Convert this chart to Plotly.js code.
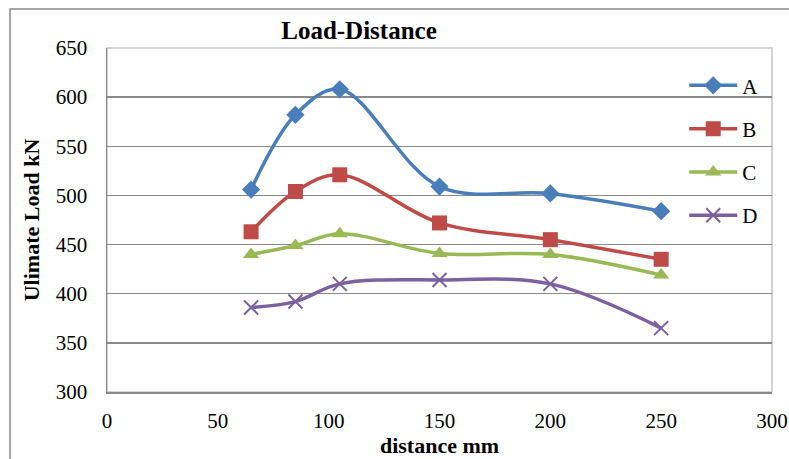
<!DOCTYPE html>
<html>
<head>
<meta charset="utf-8">
<script src="https://cdn.plot.ly/plotly-3.0.1.min.js"></script>
<style>html,body{margin:0;padding:0;background:#fff;}#chart{width:789px;height:459px;}</style>
</head>
<body>
<div id="chart"></div>
<script>
const distance = [65, 85, 105, 150, 200, 250];
const seriesNames = ["A", "B", "C", "D"];
const loadA = [506, 582, 608, 509, 502, 484];
const loadB = [463, 504, 521, 472, 455, 435];
const loadC = [440, 449, 461, 441, 440, 419];
const loadD = [386, 392, 410, 414, 410, 365];
const xTicks = [0, 50, 100, 150, 200, 250, 300];
const yTicks = [300, 350, 400, 450, 500, 550, 600, 650];

const colors = ["#4A7EBB", "#BE4B48", "#98B954", "#7D60A0"];
const symbols = ["diamond", "square", "triangle-up", "x-thin"];
const sizes = [14, 15, 14, 14];
const values = [loadA, loadB, loadC, loadD];

const serif = "Liberation Serif, Times New Roman, serif";

const traces = values.map((v, i) => ({
  x: distance, y: v, name: seriesNames[i], type: "scatter", mode: "lines+markers",
  legendgroup: seriesNames[i],
  line: {color: colors[i], width: 3.5, shape: "spline", smoothing: 1},
  marker: {symbol: symbols[i], size: sizes[i], color: colors[i],
           line: {color: colors[i], width: i === 3 ? 2 : 0}}
}));

const layout = {
  width: 789, height: 459,
  margin: {l: 107, r: 17, t: 48, b: 67},
  paper_bgcolor: "#fff", plot_bgcolor: "#fff",
  title: {text: "<b>Load-Distance</b>", x: 359/789, xref: "container", xanchor: "center",
          y: 1 - 30/459, yref: "container", yanchor: "middle",
          font: {family: serif, size: 25, color: "#000"}},
  xaxis: {range: [0, 300], tickvals: xTicks, ticktext: xTicks.map(String),
          showgrid: false, zeroline: false, showline: true, linecolor: "#8a8a8a", linewidth: 1.5,
          ticks: "", ticklabelstandoff: 9,
          tickfont: {family: serif, size: 21, color: "#000"},
          title: {text: "<b>distance mm</b>", standoff: 6, font: {family: serif, size: 22, color: "#000"}}},
  yaxis: {range: [300, 650], tickvals: yTicks, ticktext: yTicks.map(String),
          showgrid: true, gridcolor: "#8a8a8a", gridwidth: 1.5, zeroline: false,
          showline: true, linecolor: "#8a8a8a", linewidth: 1.5,
          ticks: "", ticklabelstandoff: 14,
          tickfont: {family: serif, size: 21, color: "#000"},
          title: {text: "<b>Ulimate Load kN</b>", standoff: 10, font: {family: serif, size: 22, color: "#000"}}},
  legend: {x: 0.868, xanchor: "left", y: 0.95, yanchor: "top", bgcolor: "rgba(0,0,0,0)",
           font: {family: serif, size: 21, color: "#000"}, tracegroupgap: 13, itemwidth: 48},
  shapes: [
    {type: "rect", xref: "paper", yref: "paper", x0: 0, x1: 1, y0: 0, y1: 1,
     line: {color: "#c4c4c4", width: 1.5}, layer: "below"},
    {type: "rect", xref: "paper", yref: "paper", x0: (10-107)/665, x1: 1.2, y0: -0.4, y1: 1 + (48-9)/344,
     line: {color: "#8a8a8a", width: 1.5}, layer: "below"}
  ]
};

Plotly.newPlot("chart", traces, layout, {displayModeBar: false, staticPlot: true});
</script>
</body>
</html>
